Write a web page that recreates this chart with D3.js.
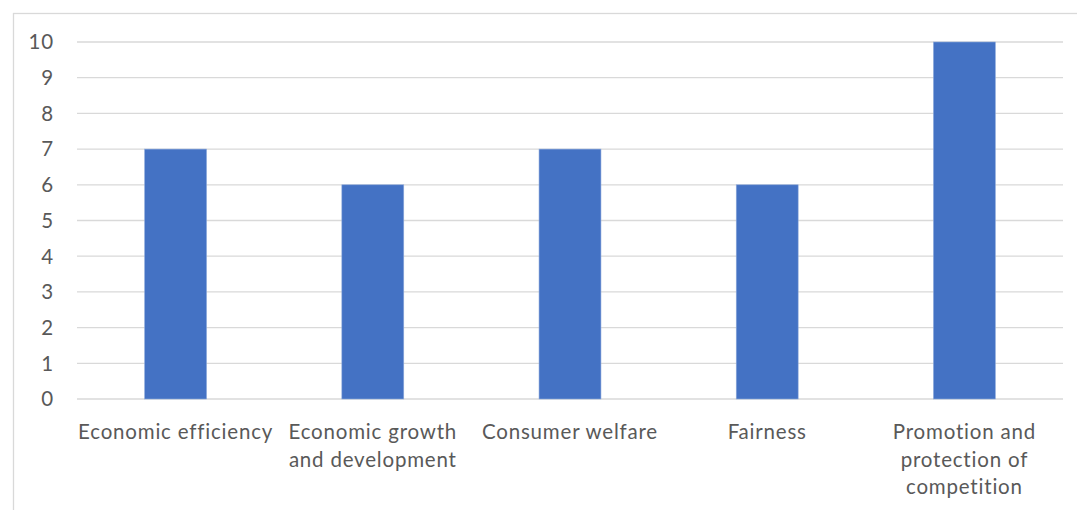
<!DOCTYPE html>
<html>
<head>
<meta charset="utf-8">
<script src="https://cdn.jsdelivr.net/npm/d3@7"></script>
<style>
  html, body { margin: 0; padding: 0; background: #fff; }
  svg text { font-family: Lato, "Open Sans", sans-serif; fill: #595959; }
</style>
</head>
<body>
<div id="main"></div>
<script>
// data
var categories = [
  ["Economic efficiency"],
  ["Economic growth", "and development"],
  ["Consumer welfare"],
  ["Fairness"],
  ["Promotion and", "protection of", "competition"]
];
var values = [7, 6, 7, 6, 10];
var yTicks = [0, 1, 2, 3, 4, 5, 6, 7, 8, 9, 10];

var W = 1077, H = 510;
var plot = { left: 77, right: 1063, top: 42, bottom: 399 };

var svg = d3.select('#main').append('svg')
  .attr('width', W).attr('height', H);

// chart frame
svg.append('rect')
  .attr('x', 13.5).attr('y', 13.5)
  .attr('width', W + 20).attr('height', H + 20)
  .attr('fill', 'none').attr('stroke', '#d9d9d9').attr('stroke-width', 1.3);

var x = d3.scaleBand()
  .domain(d3.range(categories.length))
  .range([plot.left, plot.right])
  .paddingInner(0.686).paddingOuter(0.343);

var y = d3.scaleLinear().domain([0, 10]).range([plot.bottom, plot.top]);

// gridlines
svg.append('g').selectAll('line').data(yTicks)
  .enter().append('line')
    .attr('x1', plot.left).attr('x2', plot.right)
    .attr('y1', function(d) { return y(d); })
    .attr('y2', function(d) { return y(d); })
    .attr('stroke', '#d9d9d9').attr('stroke-width', 1.3);

// y labels
svg.append('g').selectAll('text').data(yTicks)
  .enter().append('text')
    .attr('x', 54)
    .attr('y', function(d) { return y(d); })
    .attr('dy', '0.36em')
    .attr('text-anchor', 'end')
    .style('font-size', '20.5px')
    .style('letter-spacing', '0.8px')
    .text(function(d) { return d; });

// bars
svg.append('g').selectAll('rect').data(values)
  .enter().append('rect')
    .attr('x', function(d, i) { return x(i); })
    .attr('width', x.bandwidth())
    .attr('y', function(d) { return y(d); })
    .attr('height', function(d) { return y(0) - y(d); })
    .attr('fill', '#4472c4')
    .attr('stroke', '#8eaadb').attr('stroke-width', 0.6);

// category labels
var cat = svg.append('g').selectAll('text').data(categories)
  .enter().append('text')
    .attr('text-anchor', 'middle')
    .attr('x', function(d, i) { return x(i) + x.bandwidth() / 2; })
    .attr('y', 439)
    .style('font-size', '20.5px')
    .style('letter-spacing', '0.8px');

cat.selectAll('tspan').data(function(d) { return d; })
  .enter().append('tspan')
    .attr('x', function() { return d3.select(this.parentNode).attr('x'); })
    .attr('dy', function(d, i) { return i === 0 ? 0 : 27.5; })
    .text(function(d) { return d; });
</script>
</body>
</html>
